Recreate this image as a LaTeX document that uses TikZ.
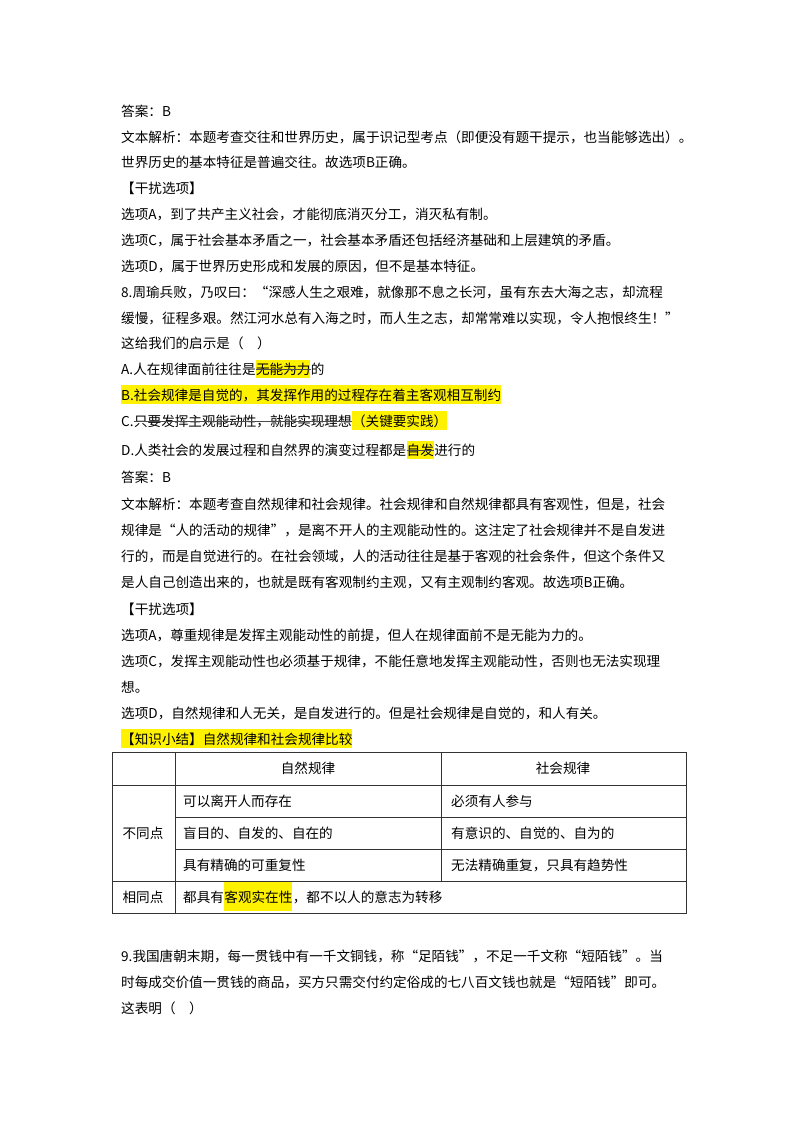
\documentclass[tikz,border=0pt]{standalone}
\usepackage{fontspec}
\setmainfont{Noto Sans CJK SC}
\usetikzlibrary{positioning}
\newcommand{\fs}{\fontsize{13.6pt}{14pt}\selectfont}
\tikzstyle{txt} = [anchor=base west, inner sep=0pt, font=\fs]
\tikzstyle{hl} = [anchor=base west, inner xsep=0pt, inner ysep=3pt, fill=yellow, font=\fs]
\tikzstyle{cell} = [inner sep=0pt, font=\fs]
\tikzstyle{strike} = [thick, black!70]
\tikzstyle{grid} = [line width=0.9pt, black!80]

\begin{document}
\begin{tikzpicture}[x=1pt, y=-1pt]
\useasboundingbox (0,0) rectangle (800,1132);
% plain lines
\foreach \y/\t [count=\i] in {116/{答案：B},
  142/{文本解析：本题考查交往和世界历史，属于识记型考点（即便没有题干提示，也当能够选出）。},
  167/{世界历史的基本特征是普遍交往。故选项B正确。},
  193/{【干扰选项】},
  219/{选项A，到了共产主义社会，才能彻底消灭分工，消灭私有制。},
  245/{选项C，属于社会基本矛盾之一，社会基本矛盾还包括经济基础和上层建筑的矛盾。},
  271/{选项D，属于世界历史形成和发展的原因，但不是基本特征。},
  297/{8.周瑜兵败，乃叹曰：“深感人生之艰难，就像那不息之长河，虽有东去大海之志，却流程},
  323/{缓慢，征程多艰。然江河水总有入海之时，而人生之志，却常常难以实现，令人抱恨终生！”},
  348/{这给我们的启示是（\quad）},
  482/{答案：B},
  509/{文本解析：本题考查自然规律和社会规律。社会规律和自然规律都具有客观性，但是，社会},
  535/{规律是“人的活动的规律”，是离不开人的主观能动性的。这注定了社会规律并不是自发进},
  561/{行的，而是自觉进行的。在社会领域，人的活动往往是基于客观的社会条件，但这个条件又},
  587/{是人自己创造出来的，也就是既有客观制约主观，又有主观制约客观。故选项B正确。},
  614/{【干扰选项】},
  640/{选项A，尊重规律是发挥主观能动性的前提，但人在规律面前不是无能为力的。},
  666/{选项C，发挥主观能动性也必须基于规律，不能任意地发挥主观能动性，否则也无法实现理},
  692/{想。},
  718/{选项D，自然规律和人无关，是自发进行的。但是社会规律是自觉的，和人有关。},
  961/{9.我国唐朝末期，每一贯钱中有一千文铜钱，称“足陌钱”，不足一千文称“短陌钱”。当},
  987/{时每成交价值一贯钱的商品，买方只需交付约定俗成的七八百文钱也就是“短陌钱”即可。},
  1013/{这表明（\quad）}}
  \node (l\i) [txt] at (121,\y) {\t};

% options with marks
\node (oa1) [txt] at (121,374) {A.人在规律面前往往是};
\node (oa2) [hl] at (oa1.base east) {无能为力};
\node (oa3) [txt] at (oa2.base east) {的};
\node (ob) [hl] at (121,400) {B.社会规律是自觉的，其发挥作用的过程存在着主客观相互制约};
\node (oc1) [txt] at (121,426) {C.};
\node (oc2) [txt] at (oc1.base east) {只要发挥主观能动性，就能实现理想};
\node (oc3) [hl] at (oc2.base east) {（关键要实践）};
\node (od1) [txt] at (121,455) {D.人类社会的发展过程和自然界的演变过程都是};
\node (od2) [hl] at (od1.base east) {自发};
\node (od3) [txt] at (od2.base east) {进行的};
\draw [strike] ([yshift=4.5pt]oa2.base west) -- ([yshift=4.5pt]oa2.base east);
\draw [strike] ([yshift=4.5pt]oc2.base west) -- ([yshift=4.5pt]oc2.base east);
\draw [strike] ([yshift=4.5pt]od2.base west) -- ([yshift=4.5pt]od2.base east);
\node (sum) [hl] at (121,744) {【知识小结】自然规律和社会规律比较};

% table
\draw [grid] (112,752) rectangle (686,913);
\draw [grid] (112,785) -- (686,785);
\draw [grid] (175,817) -- (686,817);
\draw [grid] (175,849) -- (686,849);
\draw [grid] (112,881) -- (686,881);
\draw [grid] (175,752) -- (175,913);
\draw [grid] (441,752) -- (441,881);
\node (h1) [cell] at (308,768) {自然规律};
\node (h2) [cell] at (563,768) {社会规律};
\node (diff) [cell] at (143,833) {不同点};
\node (same) [cell] at (143,897) {相同点};
\node (n1) [txt] at (183,806) {可以离开人而存在};
\node (n2) [txt] at (183,838) {盲目的、自发的、自在的};
\node (n3) [txt] at (183,870) {具有精确的可重复性};
\node (s1) [txt] at (451,806) {必须有人参与};
\node (s2) [txt] at (451,838) {有意识的、自觉的、自为的};
\node (s3) [txt] at (451,870) {无法精确重复，只具有趋势性};
\node (c1) [txt] at (183,902) {都具有};
\node (c2) [hl, inner ysep=8pt] at (c1.base east) {客观实在性};
\node (c3) [txt] at (c2.base east) {，都不以人的意志为转移};
\end{tikzpicture}
\end{document}
